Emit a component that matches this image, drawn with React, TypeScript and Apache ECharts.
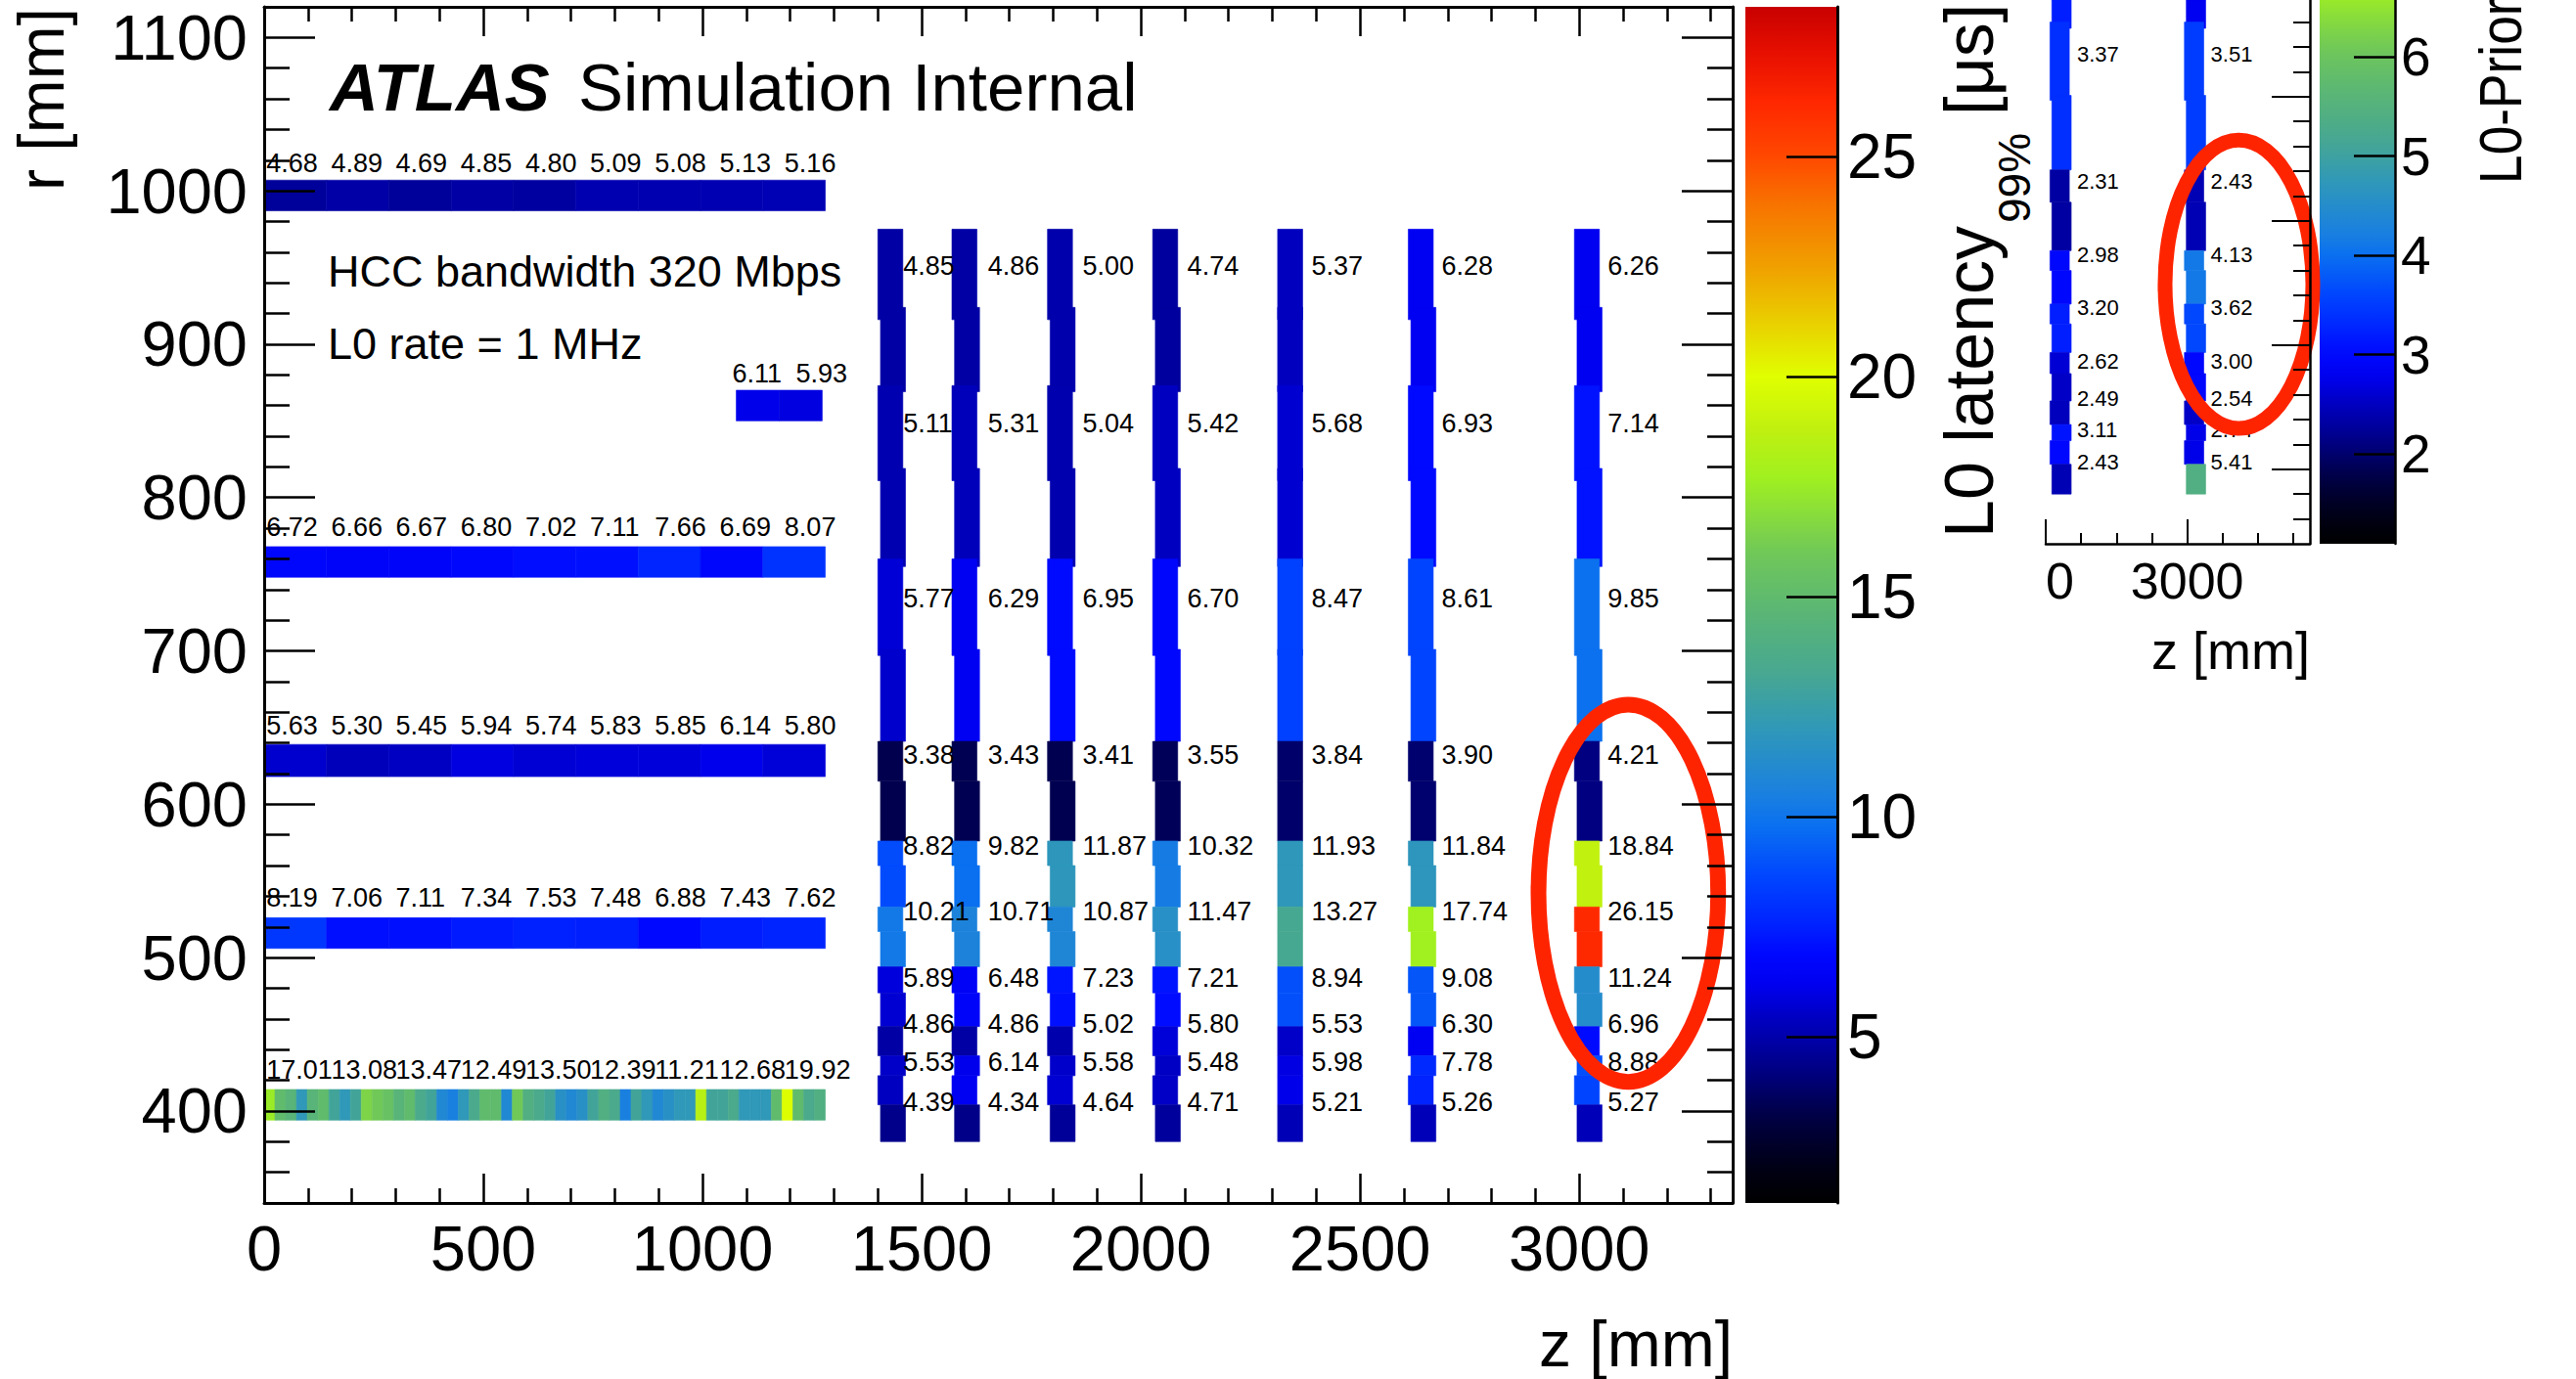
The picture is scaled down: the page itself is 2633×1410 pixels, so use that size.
import React, { useEffect, useRef } from 'react';
import * as echarts from 'echarts';

const FONT = '"Liberation Sans", Arial, Helvetica, sans-serif';

// ---------------- tick labels ----------------
const zTicks = [0, 500, 1000, 1500, 2000, 2500, 3000];
const rTicks = [400, 500, 600, 700, 800, 900, 1000, 1100];
const latencyTicks = [5, 10, 15, 20, 25];
const insetZTicks = [0, 3000];
const insetRTicks = [400, 500, 600, 700];
const priorityTicks = [2, 3, 4, 5, 6];

// ---------------- axis ranges ----------------
const zRange = [0, 3350];
const rRange = [340, 1120];
const latencyRange = [1.23, 28.4];
const insetZRange = [0, 5600];
const insetRRange = [340, 777.8];
const priorityRange = [1.095, 10.3];
const priorityVisibleMax = 6.573;

// ---------------- barrel layers (z from 0 to 1280 mm) ----------------
const barrelRLow = [987, 748, 618, 506, 394];
const barrelRHigh = [1007, 768, 639, 526, 414];
const barrelZMax = 1280;
const barrel1000 = [4.68, 4.89, 4.69, 4.85, 4.8, 5.09, 5.08, 5.13, 5.16];
const barrel762 = [6.72, 6.66, 6.67, 6.8, 7.02, 7.11, 7.66, 6.69, 8.07];
const barrel632 = [5.63, 5.3, 5.45, 5.94, 5.74, 5.83, 5.85, 6.14, 5.8];
const barrel518 = [8.19, 7.06, 7.11, 7.34, 7.53, 7.48, 6.88, 7.43, 7.62];
const barrel405Labels = [17.01, 13.08, 13.47, 12.49, 13.5, 12.39, 11.21, 12.68, 19.92];
const barrel405Cells = [
  17.5, 15, 14.5, 12, 14.5, 15, 13, 12, 13, 16.5, 16, 15.5, 14.5, 15, 13.5, 13, 11, 10.5,
  12, 13.5, 15, 15, 11, 16, 14, 13.5, 13, 11.5, 11, 11.5, 13, 14, 13.5, 10.5, 13, 12, 11,
  11.5, 12, 12, 18.5, 13, 13, 13.5, 12, 12, 12, 15, 19.9, 15, 13.5, 14,
];
const barrelLabelZ = [5, 153, 300, 448, 596, 743, 891, 1039, 1187];
const barrelLabelR = [1018, 781, 651, 539, 427];

// short layer near r = 860
const shortRLow = 850;
const shortRHigh = 870;
const shortZEdges = [1077, 1175, 1273];
const shortValues = [6.11, 5.93];
const shortLabelZ = [1068, 1213];
const shortLabelR = 881;

// ---------------- end-cap discs ----------------
const discZ = [1400, 1569, 1787, 2027, 2312, 2610, 2989];
const discWidth = 57;
const discStagger = [6, 6, 6, 6, 0, 6, 6];
const segRLow = [916, 869, 811, 755, 697, 641, 615, 576, 560, 533, 517, 494, 477, 455, 436, 423, 404, 380];
const segRHigh = [975, 924, 873, 819, 760, 701, 641, 615, 576, 560, 533, 517, 494, 477, 455, 436, 423, 404];
const segShift = [0, 1, 0, 1, 0, 1, 0, 1, 0, 1, 0, 1, 0, 1, 0, 1, 0, 1];
const disc1 = [4.85, 4.85, 5.11, 5.11, 5.77, 5.6, 3.38, 3.38, 8.82, 8.8, 10.21, 10.21, 5.89, 5.7, 4.86, 5.53, 5.4, 4.39];
const disc2 = [4.86, 4.86, 5.31, 5.31, 6.29, 6.29, 3.43, 3.43, 9.82, 9.82, 10.71, 10.71, 6.48, 6.6, 4.86, 6.14, 6.3, 4.34];
const disc3 = [5.0, 5.0, 5.04, 5.04, 6.95, 6.95, 3.41, 3.41, 11.87, 11.87, 10.87, 10.87, 7.23, 7.1, 5.02, 5.58, 5.7, 4.64];
const disc4 = [4.74, 4.74, 5.42, 5.42, 6.7, 6.8, 3.55, 3.55, 10.32, 10.32, 11.47, 11.47, 7.21, 7.0, 5.8, 5.48, 5.5, 4.71];
const disc5 = [5.37, 5.37, 5.68, 5.68, 8.47, 8.47, 3.84, 3.84, 11.93, 11.93, 13.27, 13.27, 8.94, 8.94, 5.53, 5.98, 6.1, 5.21];
const disc6 = [6.28, 6.28, 6.93, 6.93, 8.61, 8.61, 3.9, 3.9, 11.84, 11.84, 17.74, 17.74, 9.08, 9.08, 6.3, 7.78, 7.6, 5.26];
const disc7 = [6.26, 6.26, 7.14, 7.14, 9.85, 9.85, 4.21, 4.21, 18.84, 18.84, 26.15, 26.15, 11.24, 11.24, 6.96, 8.88, 8.6, 5.27];
const discLabels = [
  [4.85, 5.11, 5.77, 3.38, 8.82, 10.21, 5.89, 4.86, 5.53, 4.39],
  [4.86, 5.31, 6.29, 3.43, 9.82, 10.71, 6.48, 4.86, 6.14, 4.34],
  [5.0, 5.04, 6.95, 3.41, 11.87, 10.87, 7.23, 5.02, 5.58, 4.64],
  [4.74, 5.42, 6.7, 3.55, 10.32, 11.47, 7.21, 5.8, 5.48, 4.71],
  [5.37, 5.68, 8.47, 3.84, 11.93, 13.27, 8.94, 5.53, 5.98, 5.21],
  [6.28, 6.93, 8.61, 3.9, 11.84, 17.74, 9.08, 6.3, 7.78, 5.26],
  [6.26, 7.14, 9.85, 4.21, 18.84, 26.15, 11.24, 6.96, 8.88, 5.27],
];
const discLabelZ = [1458, 1651, 1867, 2106, 2389, 2686, 3065];
const discLabelR = [951, 848, 734, 632, 573, 530, 487, 457, 432, 406];

// ---------------- inset (second configuration) ----------------
const insetBarZ = [90, 2940];
const insetBarWidth = 410;
const insetStagger = 40;
const insetLeft = [null, null, null, 3.2, 3.37, 3.37, 2.31, 2.31, 2.98, 2.98, 3.2, 3.2, 2.62, 2.55, 2.49, 3.11, 3.0, 2.43];
const insetRight = [null, null, null, 2.8, 3.51, 3.51, 2.43, 2.43, 4.13, 4.13, 3.62, 3.62, 3.0, 3.0, 2.54, 2.74, 2.74, 5.41];
const insetLabelsLeft = [3.37, 2.31, 2.98, 3.2, 2.62, 2.49, 3.11, 2.43];
const insetLabelsRight = [3.51, 2.43, 4.13, 3.62, 3.0, 2.54, 2.74, 5.41];
const insetLabelR = [734, 632, 573, 530, 487, 457, 432, 406];
const insetLabelZ = [664, 3497];

// annotation ellipses: [zCenter, rCenter, zRadius, rRadius]
const mainEllipse = [[3112, 542, 205, 123]];
const insetEllipse = [[4096, 549, 1566, 116]];

// ---------------- palette (value in main units -> colour) ----------------
const paletteValues = [1.23, 2.0, 3.0, 3.4, 4.2, 4.85, 5.4, 6.2, 6.9, 7.5, 8.6, 9.8, 10.5, 12.0, 13.3, 14.5, 16.0, 17.7, 18.8, 20.0, 21.0, 22.5, 24.0, 25.0, 26.2, 27.3, 28.4];
const paletteColors = ['#000000', '#000014', '#00003c', '#000050', '#000080', '#0000a4', '#0000c0', '#0000f0', '#0008ff', '#0020ff', '#0044ff', '#0a70f0', '#1a80e0', '#3098b8', '#48a890', '#58b478', '#70c858', '#a0f020', '#c0f010', '#e0ff00', '#e8d800', '#f0a000', '#f87000', '#ff4800', '#ff2800', '#e81000', '#c80000'];

function hexRgb(h: string) {
  return [parseInt(h.slice(1, 3), 16), parseInt(h.slice(3, 5), 16), parseInt(h.slice(5, 7), 16)];
}
function paletteAt(v: number): string {
  if (v <= paletteValues[0]) return paletteColors[0];
  const n = paletteValues.length;
  if (v >= paletteValues[n - 1]) return paletteColors[n - 1];
  let i = 0;
  while (v > paletteValues[i + 1]) i++;
  const t = (v - paletteValues[i]) / (paletteValues[i + 1] - paletteValues[i]);
  const a = hexRgb(paletteColors[i]);
  const b = hexRgb(paletteColors[i + 1]);
  const c = a.map((x, k) => Math.round(x + (b[k] - x) * t));
  return `rgb(${c[0]},${c[1]},${c[2]})`;
}
const colorMain = (v: number) => paletteAt(v);
const colorInset = (v: number) => {
  const f = (v - priorityRange[0]) / (priorityRange[1] - priorityRange[0]);
  return paletteAt(latencyRange[0] + f * (latencyRange[1] - latencyRange[0]));
};

// ---------------- build series data ----------------
const mainCells: number[][] = [];
[barrel1000, barrel762, barrel632, barrel518].forEach((vals, i) => {
  vals.forEach((v, k) => {
    mainCells.push([(k * barrelZMax) / vals.length, ((k + 1) * barrelZMax) / vals.length, barrelRLow[i], barrelRHigh[i], v]);
  });
});
barrel405Cells.forEach((v, k) => {
  const n = barrel405Cells.length;
  mainCells.push([(k * barrelZMax) / n, ((k + 1) * barrelZMax) / n, barrelRLow[4], barrelRHigh[4], v]);
});
shortValues.forEach((v, k) => mainCells.push([shortZEdges[k], shortZEdges[k + 1], shortRLow, shortRHigh, v]));
[disc1, disc2, disc3, disc4, disc5, disc6, disc7].forEach((vals, d) => {
  vals.forEach((v, s) => {
    const z0 = discZ[d] + segShift[s] * discStagger[d];
    mainCells.push([z0, z0 + discWidth, segRLow[s], segRHigh[s], v]);
  });
});

const mainLabelPos: number[][] = [];
const mainLabelText: string[] = [];
[barrel1000, barrel762, barrel632, barrel518, barrel405Labels].forEach((vals, i) => {
  vals.forEach((v, k) => {
    mainLabelPos.push([barrelLabelZ[k], barrelLabelR[i]]);
    mainLabelText.push(v.toFixed(2));
  });
});
shortValues.forEach((v, k) => {
  mainLabelPos.push([shortLabelZ[k], shortLabelR]);
  mainLabelText.push(v.toFixed(2));
});
discLabels.forEach((vals, d) => {
  vals.forEach((v, k) => {
    mainLabelPos.push([discLabelZ[d], discLabelR[k]]);
    mainLabelText.push(v.toFixed(2));
  });
});

const insetCells: number[][] = [];
[insetLeft, insetRight].forEach((vals, b) => {
  vals.forEach((v, s) => {
    if (v == null) return;
    const z0 = insetBarZ[b] + segShift[s] * insetStagger;
    insetCells.push([z0, z0 + insetBarWidth, segRLow[s], Math.min(segRHigh[s], insetRRange[1]), v]);
  });
});
const insetLabelPos: number[][] = [];
const insetLabelText: string[] = [];
[insetLabelsLeft, insetLabelsRight].forEach((vals, b) => {
  vals.forEach((v, k) => {
    insetLabelPos.push([insetLabelZ[b], insetLabelR[k]]);
    insetLabelText.push(v.toFixed(2));
  });
});

// ---------------- render helpers ----------------
const rectRender = (colorFn: (v: number) => string) => (params: any, api: any) => {
  const p0 = api.coord([api.value(0), api.value(3)]);
  const p1 = api.coord([api.value(1), api.value(2)]);
  const c = colorFn(api.value(4));
  return {
    type: 'rect',
    shape: { x: p0[0], y: p0[1], width: p1[0] - p0[0], height: p1[1] - p0[1] },
    style: { fill: c, stroke: c, lineWidth: 0.6 },
  };
};
const textRender = (texts: string[], size: number) => (params: any, api: any) => {
  const p = api.coord([api.value(0), api.value(1)]);
  return {
    type: 'text',
    x: p[0],
    y: p[1],
    style: { text: texts[params.dataIndex], fontSize: size, fontFamily: FONT, fill: '#000', align: 'left', verticalAlign: 'middle' },
  };
};
const ellipseRender = (width: number) => (params: any, api: any) => {
  const c = api.coord([api.value(0), api.value(1)]);
  const s = api.size([api.value(2), api.value(3)]);
  const rx = s[0];
  const ry = s[1];
  const d = `M ${c[0] - rx} ${c[1]} A ${rx} ${ry} 0 1 0 ${c[0] + rx} ${c[1]} A ${rx} ${ry} 0 1 0 ${c[0] - rx} ${c[1]} Z`;
  return { type: 'path', shape: { pathData: d }, style: { fill: 'none', stroke: '#ff2400', lineWidth: width } };
};
const colorbarRender = (stops: any[]) => (params: any, api: any) => {
  const p0 = api.coord([10, api.value(1)]);
  const p1 = api.coord([11, api.value(0)]);
  return {
    type: 'rect',
    shape: { x: p0[0], y: p0[1], width: p1[0] - p0[0], height: p1[1] - p0[1] },
    style: { fill: new echarts.graphic.LinearGradient(0, 1, 0, 0, stops) },
  };
};

const mainStops = paletteValues.map((v, i) => ({
  offset: (v - latencyRange[0]) / (latencyRange[1] - latencyRange[0]),
  color: paletteColors[i],
}));
const insetStops: any[] = [];
for (let i = 0; i <= 30; i++) {
  const v = priorityRange[0] + ((priorityVisibleMax - priorityRange[0]) * i) / 30;
  insetStops.push({ offset: i / 30, color: colorInset(v) });
}

const black = '#000';
const lineS = { color: black, width: 3 };
const tickS = { color: black, width: 2.5 };
const fmt = (v: number) => String(v);

function mainAxis(pos: string, ticks: number[], majorLen: number, minorLen: number, showLabel: boolean, extra: any) {
  return {
    type: 'value',
    gridIndex: 0,
    position: pos,
    z: 10,
    axisLine: { show: true, onZero: false, lineStyle: lineS },
    axisTick: { show: true, inside: true, length: majorLen, lineStyle: tickS, customValues: ticks },
    minorTick: { show: true, splitNumber: 5, length: minorLen, lineStyle: tickS },
    axisLabel: {
      show: showLabel,
      customValues: ticks,
      formatter: fmt,
      fontSize: 65,
      fontFamily: FONT,
      color: black,
      lineHeight: 65,
    },
    splitLine: { show: false },
    minorSplitLine: { show: false },
    ...extra,
  };
}

const option: any = {
  animation: false,
  backgroundColor: '#fff',
  grid: [
    { left: 270, top: 7, width: 1501, height: 1223 },
    { left: 1784, top: 7, width: 94, height: 1223 },
    { left: 2091, top: 0, width: 270, height: 556 },
    { left: 2371, top: 0, width: 77, height: 556 },
  ],
  xAxis: [
    mainAxis('bottom', zTicks, 30, 15, true, { min: zRange[0], max: zRange[1], splitNumber: 7, minInterval: 500, maxInterval: 500, axisLabel: { show: true, customValues: zTicks, formatter: fmt, fontSize: 65, fontFamily: FONT, color: black, margin: 14, lineHeight: 65 } }),
    mainAxis('top', zTicks, 30, 15, false, { min: zRange[0], max: zRange[1], splitNumber: 7, minInterval: 500, maxInterval: 500 }),
    { type: 'value', gridIndex: 1, min: 10, max: 11, show: false, axisLine: { onZero: false } },
    {
      type: 'value', gridIndex: 2, position: 'bottom', min: insetZRange[0], max: insetZRange[1], interval: 3000, z: 10,
      axisLine: { show: true, onZero: false, lineStyle: { color: black, width: 2.5 } },
      axisTick: { show: true, inside: true, length: 25, lineStyle: { color: black, width: 2 }, customValues: insetZTicks },
      minorTick: { show: true, splitNumber: 4, length: 11, lineStyle: { color: black, width: 2 } },
      axisLabel: { show: true, customValues: insetZTicks, formatter: fmt, fontSize: 52, fontFamily: FONT, color: black, margin: 12, lineHeight: 52, alignMinLabel: 'left' },
      splitLine: { show: false },
    },
    { type: 'value', gridIndex: 3, min: 10, max: 11, show: false, axisLine: { onZero: false } },
  ],
  yAxis: [
    mainAxis('left', rTicks, 52, 26, true, { min: rRange[0], max: rRange[1], splitNumber: 8, minInterval: 100, maxInterval: 100, axisLabel: { show: true, customValues: rTicks, formatter: fmt, fontSize: 65, fontFamily: FONT, color: black, margin: 17 } }),
    mainAxis('right', rTicks, 52, 26, false, { min: rRange[0], max: rRange[1], splitNumber: 8, minInterval: 100, maxInterval: 100 }),
    {
      type: 'value', gridIndex: 1, position: 'right', min: latencyRange[0], max: latencyRange[1], z: 10,
      axisLine: { show: true, onZero: false, lineStyle: lineS },
      axisTick: { show: true, inside: true, length: 52, lineStyle: tickS, customValues: latencyTicks },
      minorTick: { show: false },
      axisLabel: { show: true, customValues: latencyTicks, formatter: fmt, fontSize: 64, fontFamily: FONT, color: black, margin: 10 },
      splitLine: { show: false },
    },
    {
      type: 'value', gridIndex: 2, position: 'right', min: insetRRange[0], max: insetRRange[1], splitNumber: 4, minInterval: 100, maxInterval: 100, z: 10,
      axisLine: { show: true, onZero: false, lineStyle: { color: black, width: 2.5 } },
      axisTick: { show: true, inside: true, length: 39, lineStyle: { color: black, width: 2 }, customValues: insetRTicks },
      minorTick: { show: true, splitNumber: 5, length: 17, lineStyle: { color: black, width: 2 } },
      axisLabel: { show: false },
      splitLine: { show: false },
    },
    {
      type: 'value', gridIndex: 3, position: 'right', min: priorityRange[0], max: priorityVisibleMax, z: 10,
      axisLine: { show: true, onZero: false, lineStyle: { color: black, width: 2.5 } },
      axisTick: { show: true, inside: true, length: 42, lineStyle: { color: black, width: 2.5 }, customValues: priorityTicks },
      minorTick: { show: false },
      axisLabel: { show: true, customValues: priorityTicks, formatter: fmt, fontSize: 55, fontFamily: FONT, color: black, margin: 6 },
      splitLine: { show: false },
    },
  ],
  series: [
    { type: 'custom', xAxisIndex: 0, yAxisIndex: 0, z: 2, silent: true, renderItem: rectRender(colorMain), data: mainCells },
    { type: 'custom', xAxisIndex: 0, yAxisIndex: 0, z: 3, silent: true, renderItem: textRender(mainLabelText, 27), data: mainLabelPos },
    { type: 'custom', xAxisIndex: 0, yAxisIndex: 0, z: 4, silent: true, renderItem: ellipseRender(16), data: mainEllipse },
    { type: 'custom', xAxisIndex: 3, yAxisIndex: 3, z: 2, silent: true, renderItem: rectRender(colorInset), data: insetCells },
    { type: 'custom', xAxisIndex: 3, yAxisIndex: 3, z: 3, silent: true, renderItem: textRender(insetLabelText, 22), data: insetLabelPos },
    { type: 'custom', xAxisIndex: 3, yAxisIndex: 3, z: 4, silent: true, renderItem: ellipseRender(15), data: insetEllipse },
    { type: 'custom', xAxisIndex: 2, yAxisIndex: 2, z: 2, silent: true, renderItem: colorbarRender(mainStops), data: [[latencyRange[0], latencyRange[1]]] },
    { type: 'custom', xAxisIndex: 4, yAxisIndex: 4, z: 2, silent: true, renderItem: colorbarRender(insetStops), data: [[priorityRange[0], priorityVisibleMax]] },
  ],
  graphic: [
    { type: 'text', x: 337, y: 89, style: { text: 'ATLAS', fontSize: 69, fontWeight: 'bold', fontStyle: 'italic', fontFamily: FONT, fill: black, align: 'left', verticalAlign: 'middle' } },
    { type: 'text', x: 591, y: 89, style: { text: 'Simulation Internal', fontSize: 69, fontFamily: FONT, fill: black, align: 'left', verticalAlign: 'middle' } },
    { type: 'text', x: 335, y: 277, style: { text: 'HCC bandwidth 320 Mbps', fontSize: 45, fontFamily: FONT, fill: black, align: 'left', verticalAlign: 'middle' } },
    { type: 'text', x: 335, y: 351, style: { text: 'L0 rate = 1 MHz', fontSize: 45, fontFamily: FONT, fill: black, align: 'left', verticalAlign: 'middle' } },
    { type: 'text', x: 1771, y: 1374, style: { text: 'z [mm]', fontSize: 66, fontFamily: FONT, fill: black, align: 'right', verticalAlign: 'middle' } },
    { type: 'text', x: 42, y: 8, rotation: Math.PI / 2, style: { text: 'r [mm]', fontSize: 66, fontFamily: FONT, fill: black, align: 'right', verticalAlign: 'middle' } },
    { type: 'text', x: 2013, y: 550, rotation: Math.PI / 2, style: { text: 'L0 latency', fontSize: 70, fontFamily: FONT, fill: black, align: 'left', verticalAlign: 'middle' } },
    { type: 'text', x: 2059, y: 228, rotation: Math.PI / 2, style: { text: '99%', fontSize: 46, fontFamily: FONT, fill: black, align: 'left', verticalAlign: 'middle' } },
    { type: 'text', x: 2013, y: 118, rotation: Math.PI / 2, style: { text: '[μs]', fontSize: 70, fontFamily: FONT, fill: black, align: 'left', verticalAlign: 'middle' } },
    { type: 'text', x: 2556, y: 188, rotation: Math.PI / 2, scaleX: 0.86, style: { text: 'L0-Priority', fontSize: 62, fontFamily: FONT, fill: black, align: 'left', verticalAlign: 'middle' } },
    { type: 'text', x: 2361, y: 665, style: { text: 'z [mm]', fontSize: 54, fontFamily: FONT, fill: black, align: 'right', verticalAlign: 'middle' } },
  ],
};

export default function App() {
  const ref = useRef<HTMLDivElement>(null);
  useEffect(() => {
    document.body.style.margin = '0';
    const chart = echarts.init(ref.current as HTMLDivElement, null, { renderer: 'svg' });
    chart.setOption(option);
    return () => chart.dispose();
  }, []);
  return <div ref={ref} style={{ width: 2633, height: 1410, background: '#fff' }} />;
}
